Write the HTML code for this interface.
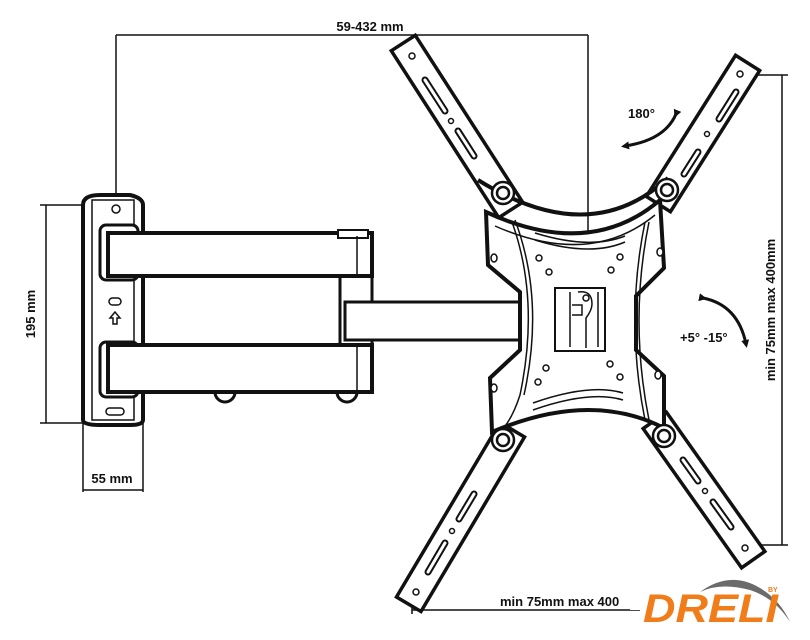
<!DOCTYPE html>
<html><head><meta charset="utf-8"><style>
html,body{margin:0;padding:0;background:#fff}
svg{display:block}
text{font-family:"Liberation Sans",sans-serif;font-weight:bold;fill:#111}
</style></head><body>
<svg width="810" height="640" viewBox="0 0 810 640" xmlns="http://www.w3.org/2000/svg">
<defs>
<marker id="ah" markerWidth="8" markerHeight="8" refX="4" refY="4" orient="auto" markerUnits="userSpaceOnUse"><path d="M0,0 L8,4 L0,8 Z" fill="#111"/></marker>
</defs>
<g stroke="#111" fill="none" stroke-width="1.5">
<!-- dimension lines -->
<line x1="116" y1="35" x2="588" y2="35"/>
<line x1="116" y1="35" x2="116" y2="200"/>
<line x1="588" y1="35" x2="588" y2="237"/>
<line x1="46" y1="205" x2="46" y2="423"/>
<line x1="40" y1="205" x2="86" y2="205"/>
<line x1="40" y1="423" x2="86" y2="423"/>
<line x1="83" y1="418" x2="83" y2="492"/>
<line x1="143" y1="418" x2="143" y2="492"/>
<line x1="83" y1="490" x2="143" y2="490"/>
<line x1="782" y1="75" x2="782" y2="545"/>
<line x1="750" y1="75" x2="788" y2="75"/>
<line x1="755" y1="545" x2="788" y2="545"/>
<line x1="412" y1="600" x2="412" y2="614"/>
<line x1="412" y1="610" x2="640" y2="610"/>
</g>
<text x="370" y="31" font-size="13" text-anchor="middle">59-432 mm</text>
<text x="112" y="483" font-size="13" text-anchor="middle">55 mm</text>
<text transform="translate(35,314) rotate(-90)" font-size="13" text-anchor="middle">195 mm</text>
<text transform="translate(775,310) rotate(-90)" font-size="13" text-anchor="middle">min 75mm max 400mm</text>
<text x="500" y="606" font-size="13">min 75mm max 400</text>
<rect x="630" y="590" width="30" height="20" fill="#fff"/>

<!-- wall plate & arms -->
<g stroke="#111" stroke-width="3" fill="#fff">
<path d="M83,205 Q83,195 100,195 L130,195 Q143,198 143,205 L143,420 Q143,425 130,425 L100,425 Q83,425 83,420 Z" stroke-width="4"/>
<rect x="92" y="200" width="42" height="220" stroke-width="1.5"/>
<rect x="340" y="275" width="32" height="70"/>
<rect x="345" y="302" width="175" height="38"/>
<path d="M215,392 a10,10 0 0 0 20,0 Z" />
<path d="M337,392 a10,10 0 0 0 20,0 Z" />
<rect x="100" y="225" width="38" height="55" rx="6"/>
<rect x="100" y="342" width="38" height="55" rx="6"/>
<rect x="108" y="233" width="264" height="43" stroke-width="4"/>
<rect x="108" y="345" width="264" height="47" stroke-width="4"/>
<rect x="338" y="230" width="30" height="8" stroke-width="2"/>
<line x1="357" y1="236" x2="357" y2="276" stroke-width="1.5"/>
<line x1="357" y1="345" x2="357" y2="392" stroke-width="1.5"/>
<circle cx="116" cy="209" r="4" stroke-width="1.5"/>
<rect x="109" y="298" width="12" height="7" rx="3.5" stroke-width="1.5"/>
<rect x="106" y="408" width="18" height="7" rx="3.5" stroke-width="1.5"/>
<path d="M115,312 l-5,6 h3 v6 h4 v-6 h3 Z" stroke-width="1.5"/>
</g>

<!-- cross arms -->
<g stroke-linecap="square">
<g stroke="#111" stroke-width="32">
<line x1="411" y1="55" x2="503" y2="198"/>
<line x1="740" y1="75" x2="666" y2="192"/>
<line x1="416" y1="592" x2="505" y2="442"/>
<line x1="745" y1="548" x2="663" y2="432"/>
</g>
<g stroke="#fff" stroke-width="25">
<line x1="411" y1="55" x2="503" y2="198"/>
<line x1="740" y1="75" x2="666" y2="192"/>
<line x1="416" y1="592" x2="505" y2="442"/>
<line x1="745" y1="548" x2="663" y2="432"/>
</g>
</g>
<g stroke="#111" stroke-width="7" stroke-linecap="round">
<line x1="425" y1="80" x2="445" y2="111"/><line x1="458" y1="131" x2="474" y2="156"/>
<line x1="736" y1="92" x2="719" y2="119"/><line x1="698" y1="152" x2="684" y2="174"/>
<line x1="428" y1="572" x2="445" y2="543"/><line x1="459" y1="519" x2="474" y2="494"/>
<line x1="731" y1="527" x2="713" y2="502"/><line x1="698" y1="481" x2="683" y2="460"/>
</g>
<g stroke="#fff" stroke-width="3" stroke-linecap="round">
<line x1="425" y1="80" x2="445" y2="111"/><line x1="458" y1="131" x2="474" y2="156"/>
<line x1="736" y1="92" x2="719" y2="119"/><line x1="698" y1="152" x2="684" y2="174"/>
<line x1="428" y1="572" x2="445" y2="543"/><line x1="459" y1="519" x2="474" y2="494"/>
<line x1="731" y1="527" x2="713" y2="502"/><line x1="698" y1="481" x2="683" y2="460"/>
</g>
<g fill="#fff" stroke="#111" stroke-width="1.5">
<circle cx="412" cy="56" r="3"/><circle cx="740" cy="74" r="3"/><circle cx="416" cy="592" r="3"/><circle cx="745" cy="548" r="3"/>
<circle cx="451" cy="121" r="2.5"/><circle cx="707" cy="134" r="2.5"/><circle cx="452" cy="531" r="2.5"/><circle cx="705" cy="491" r="2.5"/>
</g>

<!-- center plate -->
<path d="M486,212 Q590,260 660,200 L664,268 L636,296 L636,350 L664,376 L664,428 Q590,390 492,432 L490,378 L520,350 L520,292 L488,265 Z" fill="#fff" stroke="#111" stroke-width="4"/>
<g fill="none" stroke="#111" stroke-width="1.5">
<path d="M478,180 Q590,250 668,178" stroke-width="4"/>
<path d="M495,226 Q590,268 655,215"/>
<path d="M512,222 Q540,300 520,395 Q512,420 500,432"/>
<path d="M515,220 Q545,300 524,395"/>
<path d="M645,222 Q625,320 645,420"/>
<path d="M649,222 Q629,320 649,420"/>
<path d="M535,233 Q590,250 625,236 M535,240 Q590,257 625,242"/>
<path d="M533,410 Q590,390 623,400 M533,403 Q590,383 623,393"/>
<rect x="555" y="288" width="50" height="63" stroke-width="2"/>
<path d="M570,292 v55 M598,292 v55 M578,292 q14,-2 14,12 q0,6 -6,14 v30 M572,305 h10 v10 h-10"/>
<circle cx="586" cy="298" r="3"/>
</g>
<g fill="#fff" stroke="#111" stroke-width="1.5">
<ellipse cx="494" cy="258" rx="3" ry="4"/><ellipse cx="494" cy="388" rx="3" ry="4"/>
<ellipse cx="660" cy="252" rx="3" ry="4"/><ellipse cx="658" cy="375" rx="3" ry="4"/>
<circle cx="539" cy="258" r="3"/><circle cx="549" cy="272" r="3"/><circle cx="620" cy="257" r="3"/><circle cx="611" cy="270" r="3"/>
<circle cx="546" cy="368" r="3"/><circle cx="538" cy="382" r="3"/><circle cx="610" cy="364" r="3"/><circle cx="620" cy="377" r="3"/>
</g>
<!-- bolts -->
<g fill="#fff" stroke="#111" stroke-width="2.5">
<circle cx="503" cy="193" r="11"/><circle cx="503" cy="193" r="6"/>
<circle cx="667" cy="190" r="11"/><circle cx="667" cy="190" r="6"/>
<circle cx="503" cy="440" r="11"/><circle cx="503" cy="440" r="6"/>
<circle cx="664" cy="436" r="11"/><circle cx="664" cy="436" r="6"/>
</g>

<!-- rotation arrows -->
<path d="M676,114 Q665,140 625,146" fill="none" stroke="#111" stroke-width="3" marker-start="url(#ah)" marker-end="url(#ah)"/>
<text x="628" y="118" font-size="13">180°</text>
<path d="M703,298 Q738,305 746,344" fill="none" stroke="#111" stroke-width="3" marker-start="url(#ah)" marker-end="url(#ah)"/>
<text x="680" y="342" font-size="13">+5° -15°</text>

<!-- logo -->
<path d="M700,592 Q730,570 760,588 Q780,600 790,622 Q775,598 750,590 Q720,582 700,592 Z" fill="#6b6b6b"/>
<text x="643" y="622" font-size="40" font-style="italic" style="fill:#f07d1a;font-family:'Liberation Sans',sans-serif;font-weight:900" textLength="135" lengthAdjust="spacingAndGlyphs">DRELI</text>
<text x="768" y="592" font-size="7" style="fill:#f07d1a">BY</text>
</svg>
</body></html>
